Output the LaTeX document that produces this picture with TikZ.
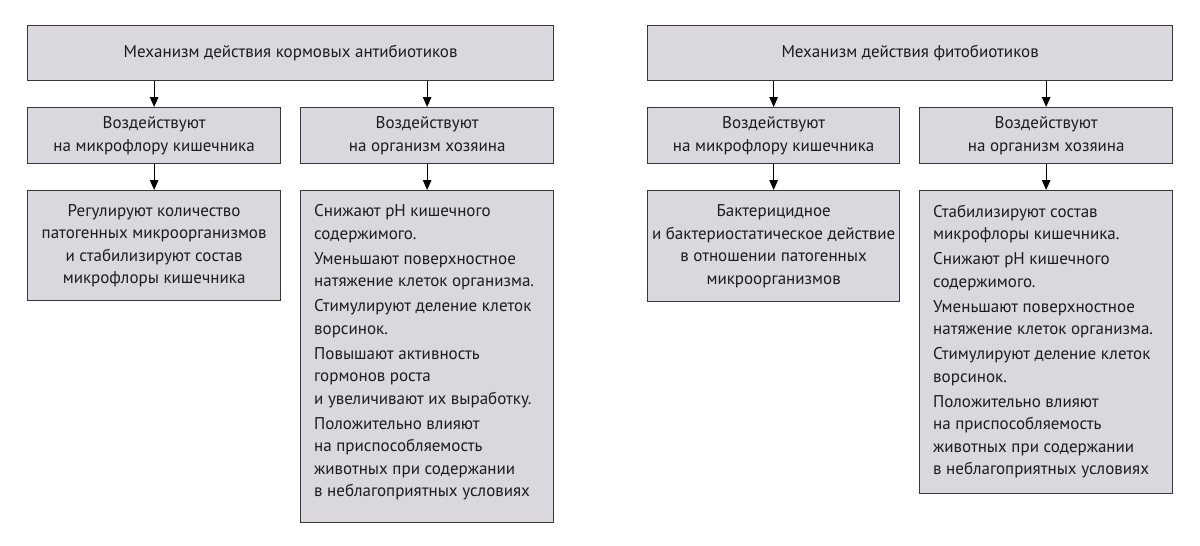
\documentclass[tikz,border=0pt]{standalone}
\usepackage{fontspec}
\setmainfont{PT Sans}
\usetikzlibrary{arrows.meta}
\definecolor{boxfill}{HTML}{DAD7DE}
\definecolor{boxline}{HTML}{383838}
\definecolor{txt}{HTML}{1C1C1C}
\tikzset{
  box/.style={draw=boxline, fill=boxfill, line width=1.3pt, inner sep=0pt, anchor=north west, align=center, text=txt,
    font=\fontsize{17}{22.5}\selectfont},
  boxtext/.style={inner sep=0pt, anchor=north west, align=left, text=txt, font=\fontsize{17}{22.5}\selectfont},
  link/.style={line width=1.2pt, draw=black, -{Triangle[length=10pt,width=8.5pt]}}
}
\begin{document}
\begin{tikzpicture}[x=1pt,y=-1pt]
\useasboundingbox (0,0) rectangle (1200,546);
\fill[white] (0,0) rectangle (1200,546);
% left block
\node[box, minimum width=526, minimum height=55] (lt) at (27,25) {Механизм действия кормовых антибиотиков};
\node[box, minimum width=253, minimum height=56] (la) at (27,107) {Воздействуют\\на микрофлору кишечника};
\node[box, minimum width=253, minimum height=56] (lb) at (300,107) {Воздействуют\\на организм хозяина};
\node[box, minimum width=253, minimum height=110] (lc) at (27,190) {Регулируют количество\\патогенных микроорганизмов\\и стабилизируют состав\\микрофлоры кишечника};
\node[box, minimum width=253, minimum height=332] (ld) at (300,190) {};
\node[boxtext] (ldt) at (314,204.5) {Снижают pH кишечного\\содержимого.\\[2.5pt]Уменьшают поверхностное\\натяжение клеток организма.\\[2.5pt]Стимулируют деление клеток\\ворсинок.\\[2.5pt]Повышают активность\\гормонов роста\\и увеличивают их выработку.\\[2.5pt]Положительно влияют\\на приспособляемость\\животных при содержании\\в неблагоприятных условиях};
% right block
\node[box, minimum width=525, minimum height=55] (rt) at (647,25) {Механизм действия фитобиотиков};
\node[box, minimum width=252, minimum height=56] (ra) at (647,107) {Воздействуют\\на микрофлору кишечника};
\node[box, minimum width=253, minimum height=56] (rb) at (919,107) {Воздействуют\\на организм хозяина};
\node[box, minimum width=252, minimum height=111] (rc) at (647,190) {Бактерицидное\\и бактериостатическое действие\\в отношении патогенных\\микроорганизмов};
\node[box, minimum width=253, minimum height=303] (rd) at (919,190) {};
\node[boxtext] (rdt) at (933,204.5) {Стабилизируют состав\\микрофлоры кишечника.\\[2.5pt]Снижают pH кишечного\\содержимого.\\[2.5pt]Уменьшают поверхностное\\натяжение клеток организма.\\[2.5pt]Стимулируют деление клеток\\ворсинок.\\[2.5pt]Положительно влияют\\на приспособляемость\\животных при содержании\\в неблагоприятных условиях};
% arrows
\draw[link] (lt.south -| la.north) -- (la.north);
\draw[link] (lt.south -| lb.north) -- (lb.north);
\draw[link] (la.south) -- (lc.north);
\draw[link] (lb.south) -- (ld.north);
\draw[link] (rt.south -| ra.north) -- (ra.north);
\draw[link] (rt.south -| rb.north) -- (rb.north);
\draw[link] (ra.south) -- (rc.north);
\draw[link] (rb.south) -- (rd.north);
\end{tikzpicture}
\end{document}
